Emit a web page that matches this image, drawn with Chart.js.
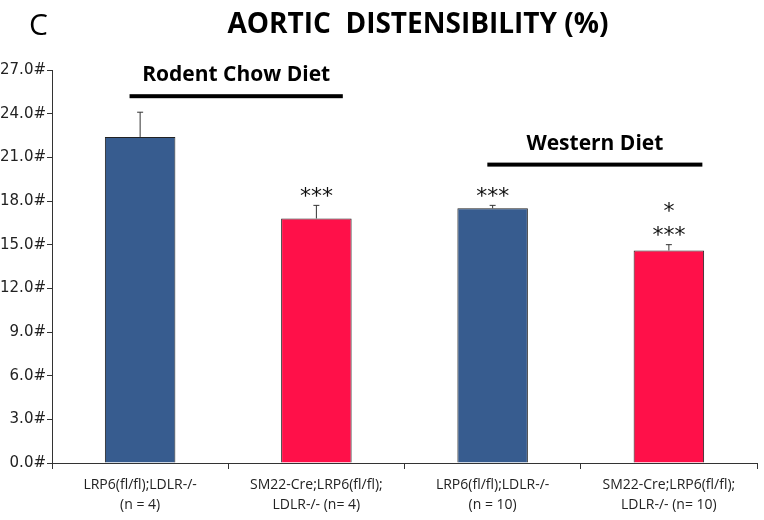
<!DOCTYPE html>
<html lang="en">
<head>
    <meta charset="UTF-8">
    <title>Aortic Distensibility</title>
    <script src="https://cdn.jsdelivr.net/npm/chart.js@4.4.0/dist/chart.umd.min.js"></script>
    <style>
        body { margin: 0; background: #fff; }
        #wrap { width: 764px; height: 520px; }
    </style>
</head>
<body>
    <div id="wrap"><canvas id="distChart" width="764" height="520"></canvas></div>

    <script>
        // data
        const groups = [
            ['LRP6(fl/fl);LDLR-/-', '(n = 4)'],
            ['SM22-Cre;LRP6(fl/fl);', 'LDLR-/- (n= 4)'],
            ['LRP6(fl/fl);LDLR-/-', '(n = 10)'],
            ['SM22-Cre;LRP6(fl/fl);', 'LDLR-/- (n= 10)']
        ];
        const means = [22.4, 16.8, 17.5, 14.6];
        const errors = [1.7, 0.9, 0.2, 0.4];
        const stars = [[], ['***'], ['***'], ['***', '*']];
        const yTicks = [0, 3, 6, 9, 12, 15, 18, 21, 24, 27];
        const barColors = ['#375c8f', '#ff1049', '#375c8f', '#ff1049'];

        // diet brackets: [label, from index, to index, y value]
        const diets = [
            ['Rodent Chow Diet', -0.06, 1.15, 25.2],
            ['Western Diet', 1.97, 3.19, 20.5]
        ];

        const extras = {
            id: 'extras',
            afterDatasetsDraw(chart) {
                const ctx = chart.ctx;
                const x = chart.scales.x, y = chart.scales.y;
                ctx.save();

                // error bars (upper only)
                ctx.strokeStyle = '#333';
                ctx.lineWidth = 1;
                means.forEach((m, i) => {
                    const px = x.getPixelForValue(i);
                    const top = y.getPixelForValue(m + errors[i]);
                    ctx.beginPath();
                    ctx.moveTo(px, y.getPixelForValue(m));
                    ctx.lineTo(px, top);
                    ctx.moveTo(px - 3, top);
                    ctx.lineTo(px + 3, top);
                    ctx.stroke();
                });

                // significance stars, stacked upward
                ctx.fillStyle = '#111';
                ctx.font = '22px "DejaVu Sans"';
                ctx.textAlign = 'center';
                ctx.textBaseline = 'middle';
                stars.forEach((list, i) => {
                    const px = x.getPixelForValue(i);
                    let py = y.getPixelForValue(means[i] + errors[i]) - 14;
                    list.forEach(s => {
                        ctx.fillText(s, px, py + 6);
                        py -= 24;
                    });
                });

                // diet brackets
                diets.forEach(d => {
                    const x0 = x.getPixelForValue(d[1]);
                    const x1 = x.getPixelForValue(d[2]);
                    const py = y.getPixelForValue(d[3]);
                    ctx.fillStyle = '#000';
                    ctx.fillRect(x0, py - 2, x1 - x0, 4);
                    ctx.font = 'bold 21px "Open Sans"';
                    ctx.textBaseline = 'alphabetic';
                    ctx.fillText(d[0], (x0 + x1) / 2, py - 15);
                });

                // title and panel letter
                ctx.font = 'bold 28px "Open Sans"';
                ctx.fillText('AORTIC  DISTENSIBILITY (%)', 418, 33);
                ctx.font = '30px "Open Sans"';
                ctx.textAlign = 'left';
                ctx.fillText('C', 29, 35);
                ctx.restore();
            }
        };

        new Chart(document.getElementById('distChart'), {
            type: 'bar',
            data: {
                labels: groups,
                datasets: [{
                    data: means,
                    backgroundColor: barColors,
                    borderColor: '#222',
                    borderWidth: 1,
                    categoryPercentage: 1.0,
                    barPercentage: 0.4
                }]
            },
            options: {
                responsive: false,
                animation: false,
                layout: { padding: { top: 70, right: 7, left: 0, bottom: 0 } },
                plugins: { legend: { display: false }, tooltip: { enabled: false } },
                scales: {
                    x: {
                        grid: { display: true, drawOnChartArea: false, drawTicks: true, tickLength: 6, color: '#333', offset: true },
                        border: { color: '#333', width: 1 },
                        ticks: {
                            color: '#222',
                            font: { family: 'Open Sans', size: 14, lineHeight: 1.45 },
                            maxRotation: 0,
                            padding: 6
                        },
                        afterFit(s) { s.height = 57; }
                    },
                    y: {
                        min: 0,
                        max: 27,
                        afterBuildTicks(s) { s.ticks = yTicks.map(v => ({ value: v })); },
                        grid: { display: true, drawOnChartArea: false, drawTicks: true, tickLength: 5, color: '#333' },
                        border: { color: '#333', width: 1 },
                        ticks: {
                            color: '#222',
                            font: { family: 'DejaVu Sans', size: 15 },
                            padding: 1,
                            callback: v => v.toFixed(1) + '#'
                        },
                        afterFit(s) { s.width = 52; }
                    }
                }
            },
            plugins: [extras]
        });
    </script>
</body>
</html>
